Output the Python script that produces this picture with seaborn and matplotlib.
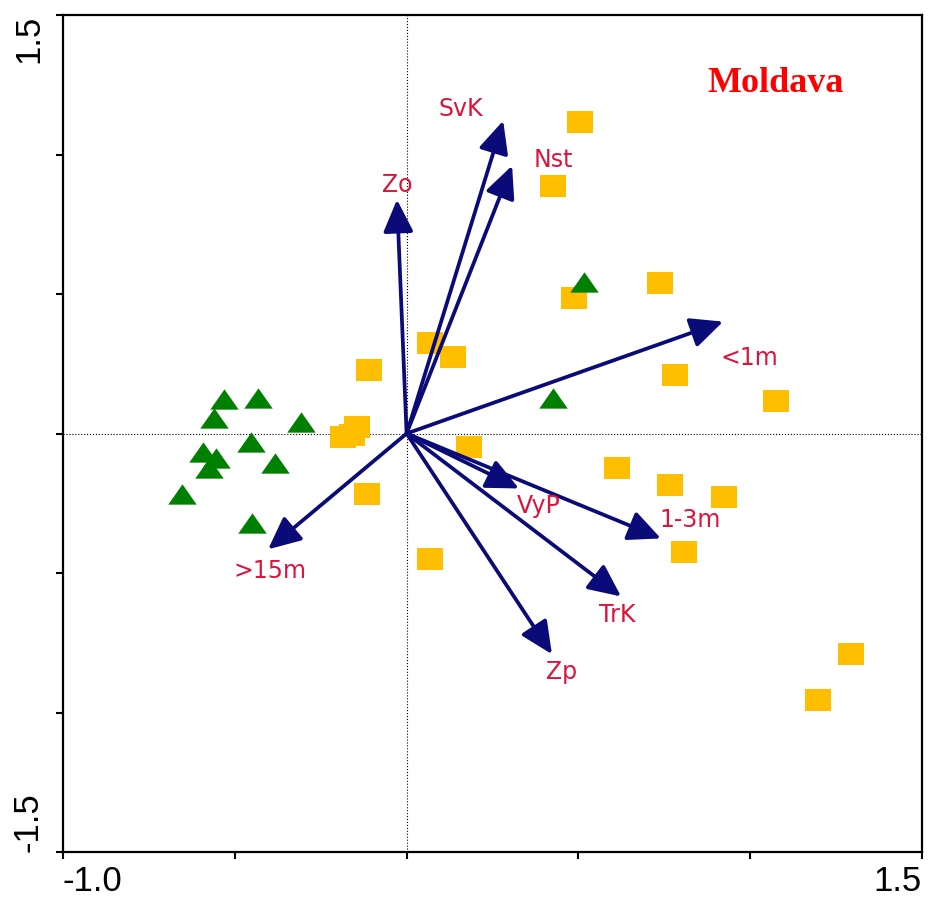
import numpy as np
import pandas as pd
import matplotlib
matplotlib.use("Agg")
import matplotlib.pyplot as plt
import seaborn as sns

# site scores (orange squares)
sq_x = [0.505, 0.426, 0.487, 0.737, 0.068, 0.135, -0.109, 0.781, 1.075, -0.144,
        -0.185, -0.159, 0.182, 0.612, 0.767, 0.924, -0.115, 0.807, 0.068, 1.293, 1.197]
sq_y = [1.117, 0.888, 0.487, 0.541, 0.326, 0.276, 0.229, 0.211, 0.115, 0.025,
        -0.014, -0.004, -0.050, -0.125, -0.183, -0.229, -0.218, -0.426, -0.451, -0.791, -0.956]

# site scores (green triangles)
tri_x = [0.516, 0.426, -0.531, -0.433, -0.561, -0.307, -0.453, -0.593, -0.555,
         -0.575, -0.383, -0.654, -0.450]
tri_y = [0.544, 0.129, 0.122, 0.129, 0.054, 0.043, -0.029, -0.068, -0.086,
         -0.122, -0.107, -0.218, -0.322]

# environmental variables (arrows)
var_names = ["SvK", "Nst", "Zo", "<1m", "VyP", "1-3m", "TrK", "Zp", ">15m"]
var_x = [0.281, 0.307, -0.028, 0.921, 0.327, 0.740, 0.624, 0.423, -0.403]
var_y = [1.121, 0.960, 0.838, 0.401, -0.197, -0.376, -0.584, -0.791, -0.415]
lab_x = [0.158, 0.426, -0.028, 0.997, 0.385, 0.825, 0.612, 0.452, -0.398]
lab_y = [1.164, 0.981, 0.892, 0.272, -0.261, -0.311, -0.652, -0.856, -0.491]

sq = pd.DataFrame({"x": sq_x, "y": sq_y})
tri = pd.DataFrame({"x": tri_x, "y": tri_y})

sns.set_theme(style="ticks")
plt.rcParams["font.family"] = ["Liberation Sans", "DejaVu Sans"]

fig = plt.figure(figsize=(9.29, 8.98), dpi=100)
ax = fig.add_axes([0.0678, 0.0512, 0.9247, 0.9321])

rect = [(-1, -0.815), (1, -0.815), (1, 0.815), (-1, 0.815), (-1, -0.815)]
trig = [(0, 0.714), (-1, -0.714), (1, -0.714), (0, 0.714)]

sns.scatterplot(data=sq, x="x", y="y", marker=rect, s=377, color="#FFBF00",
                linewidth=0, ax=ax, zorder=2)
sns.scatterplot(data=tri, x="x", y="y", marker=trig, s=420, color="#008000",
                linewidth=0, ax=ax, zorder=3)

ax.axhline(0, color="black", lw=0.8, ls=":", zorder=1)
ax.axvline(0, color="black", lw=0.8, ls=":", zorder=1)

for name, x, y, lx, ly in zip(var_names, var_x, var_y, lab_x, lab_y):
    ax.annotate("", xy=(x, y), xytext=(0, 0),
                arrowprops=dict(arrowstyle="-|>,head_length=0.9,head_width=0.42",
                                mutation_scale=22, color="#0A0A78", lw=2.7,
                                shrinkA=0, shrinkB=0),
                zorder=4)
    ax.text(lx, ly, name, color="#DC143C", fontsize=17, family="DejaVu Sans",
            ha="center", va="center", zorder=5)

ax.text(1.075, 1.253, "Moldava", color="#FF0000", fontsize=26, fontweight="bold",
        family="Liberation Serif", ha="center", va="center")

ax.set_xlim(-1.0, 1.5)
ax.set_ylim(-1.5, 1.5)
ax.set_xticks([-1.0, -0.5, 0, 0.5, 1.0, 1.5])
ax.set_xticklabels(["-1.0", "", "", "", "", "1.5"])
ax.set_yticks([-1.5, -1.0, -0.5, 0, 0.5, 1.0, 1.5])
ax.set_yticklabels(["-1.5", "", "", "", "", "", "1.5"], rotation=90)
ax.set_xlabel("")
ax.set_ylabel("")
ax.tick_params(direction="out", length=5, width=1.5, labelsize=25, colors="black")
ax.tick_params(axis="x", pad=4)
ax.tick_params(axis="y", pad=8)

xl = ax.get_xticklabels()
xl[0].set_ha("left")
xl[-1].set_ha("right")
yl = ax.get_yticklabels()
yl[0].set_va("bottom")
yl[-1].set_va("top")

for sp in ax.spines.values():
    sp.set_visible(True)
    sp.set_linewidth(1.6)
    sp.set_color("black")

fig.savefig("out.png", dpi=100)
